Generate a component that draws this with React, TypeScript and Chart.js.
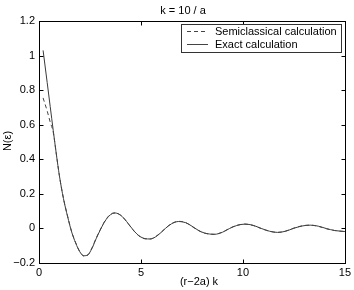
import React, { useEffect, useRef } from "react";
import { Chart, registerables } from "chart.js";

Chart.register(...registerables);

const titleText = "k = 10 / a";
const xTitle = "(r\u22122a) k";
const yTitle = "N(\u03b5)";
const seriesNames = ["Semiclassical calculation", "Exact calculation"];

const xTickLabels = ["0", "5", "10", "15"];
const yTickLabels = ["\u22120.2", "0", "0.2", "0.4", "0.6", "0.8", "1", "1.2"];

const exactX = [0.2, 0.4, 0.55, 0.7, 0.85, 1.0, 1.2, 1.4, 1.6, 1.8, 2.0, 2.2, 2.4, 2.6, 2.8, 3.0, 3.2, 3.4, 3.6, 3.75, 4.0, 4.2, 4.4, 4.6, 4.8, 5.0, 5.2, 5.45, 5.7, 6.0, 6.2, 6.5, 6.85, 7.2, 7.5, 7.8, 8.1, 8.6, 9.0, 9.35, 9.7, 10.1, 10.5, 10.9, 11.3, 11.7, 12.1, 12.5, 12.9, 13.3, 13.7, 14.1, 14.5, 15.0];
const exactY = [1.03, 0.845, 0.705, 0.565, 0.43, 0.305, 0.172, 0.07, -0.02, -0.085, -0.135, -0.158, -0.152, -0.115, -0.06, -0.01, 0.035, 0.068, 0.086, 0.089, 0.077, 0.054, 0.024, -0.006, -0.032, -0.05, -0.059, -0.061, -0.05, -0.022, 0.0, 0.027, 0.04, 0.033, 0.013, -0.01, -0.026, -0.034, -0.022, 0.0, 0.017, 0.025, 0.018, 0.0, -0.016, -0.023, -0.016, 0.001, 0.014, 0.019, 0.013, -0.001, -0.012, -0.018];

const semiX = [0.2, 0.4, 0.55, 0.7, 0.85, 1.0, 1.2, 1.4, 1.6, 1.8, 2.0, 2.2, 2.4, 2.6, 2.8, 3.0, 3.2, 3.4, 3.6, 3.75, 4.0, 4.2, 4.4, 4.6, 4.8, 5.0, 5.2, 5.45, 5.7, 6.0, 6.2, 6.5, 6.85, 7.2, 7.5, 7.8, 8.1, 8.6, 9.0, 9.35, 9.7, 10.1, 10.5, 10.9, 11.3, 11.7, 12.1, 12.5, 12.9, 13.3, 13.7, 14.1, 14.5, 15.0];
const semiY = [0.755, 0.68, 0.615, 0.555, 0.43, 0.305, 0.174, 0.072, -0.018, -0.083, -0.133, -0.16, -0.154, -0.112, -0.057, -0.008, 0.037, 0.07, 0.088, 0.09, 0.076, 0.053, 0.023, -0.007, -0.033, -0.051, -0.06, -0.061, -0.049, -0.021, 0.001, 0.028, 0.041, 0.033, 0.012, -0.011, -0.027, -0.034, -0.021, 0.001, 0.018, 0.025, 0.017, -0.001, -0.016, -0.023, -0.015, 0.002, 0.015, 0.019, 0.012, -0.002, -0.012, -0.018];

const FONT = "'Liberation Sans', Arial, Helvetica, sans-serif";

const framePlugin = {
  id: "frame",
  afterDraw(chart: any) {
    const ctx = chart.ctx;
    const a = chart.chartArea;
    const xs = chart.scales.x;
    const ys = chart.scales.y;
    ctx.save();
    ctx.strokeStyle = "#000";
    ctx.lineWidth = 1;
    const L = Math.round(a.left) + 0.5;
    const R = Math.round(a.right) + 0.5;
    const T = Math.round(a.top) + 0.5;
    const B = Math.round(a.bottom) + 0.5;
    ctx.strokeRect(L, T, R - L, B - T);
    const tl = 4;
    ctx.beginPath();
    xs.ticks.forEach((t: any) => {
      const px = Math.round(xs.getPixelForValue(t.value)) + 0.5;
      ctx.moveTo(px, B);
      ctx.lineTo(px, B - tl);
      ctx.moveTo(px, T);
      ctx.lineTo(px, T + tl);
    });
    ys.ticks.forEach((t: any) => {
      const py = Math.round(ys.getPixelForValue(t.value)) + 0.5;
      ctx.moveTo(L, py);
      ctx.lineTo(L + tl, py);
      ctx.moveTo(R, py);
      ctx.lineTo(R - tl, py);
    });
    ctx.stroke();

    ctx.fillStyle = "#000";
    ctx.font = "11px " + FONT;
    ctx.textAlign = "center";
    ctx.textBaseline = "middle";
    ctx.fillText(titleText, 183, 11);
    ctx.fillText(xTitle, 199, 282);
    ctx.save();
    ctx.translate(8, 141);
    ctx.rotate(-Math.PI / 2);
    ctx.fillText(yTitle, 0, 0);
    ctx.restore();

    // legend
    const lx = 181.5, ly = 24.5, lw = 160, lh = 28;
    ctx.fillStyle = "#fff";
    ctx.fillRect(lx, ly, lw, lh);
    ctx.strokeStyle = "#333";
    ctx.strokeRect(lx, ly, lw, lh);
    ctx.strokeStyle = "#444";
    ctx.beginPath();
    ctx.setLineDash([4, 3]);
    ctx.moveTo(187, 31.5);
    ctx.lineTo(208, 31.5);
    ctx.stroke();
    ctx.setLineDash([]);
    ctx.beginPath();
    ctx.moveTo(187, 44.5);
    ctx.lineTo(208, 44.5);
    ctx.stroke();
    ctx.fillStyle = "#000";
    ctx.textAlign = "left";
    ctx.fillText(seriesNames[0], 215, 32);
    ctx.fillText(seriesNames[1], 215, 45);
    ctx.restore();
  },
};

export default function App() {
  const ref = useRef<HTMLCanvasElement>(null);
  useEffect(() => {
    document.body.style.margin = "0";
    const canvas = ref.current;
    if (!canvas) return;
    const chart = new Chart(canvas, {
      type: "line",
      data: {
        datasets: [
          {
            label: seriesNames[0],
            data: semiX.map((x, i) => ({ x, y: semiY[i] })),
            borderColor: "#444",
            borderWidth: 1,
            borderDash: [4, 3],
            pointRadius: 0,
            fill: false,
            cubicInterpolationMode: "monotone",
          },
          {
            label: seriesNames[1],
            data: exactX.map((x, i) => ({ x, y: exactY[i] })),
            borderColor: "#3a3a3a",
            borderWidth: 1,
            pointRadius: 0,
            fill: false,
            cubicInterpolationMode: "monotone",
          },
        ],
      },
      options: {
        responsive: false,
        animation: false,
        layout: { padding: { top: 21, right: 9, left: 0, bottom: 0 } },
        plugins: { legend: { display: false }, title: { display: false }, tooltip: { enabled: false } },
        scales: {
          x: {
            type: "linear",
            min: 0,
            max: 15,
            afterFit: (s: any) => { s.height = 27; },
            grid: { display: false, drawTicks: false },
            border: { display: false },
            ticks: {
              stepSize: 5,
              padding: 3,
              color: "#000",
              font: { family: FONT, size: 11 },
              maxRotation: 0,
              callback: (_v: any, i: number) => xTickLabels[i],
            },
          },
          y: {
            type: "linear",
            min: -0.2,
            max: 1.2,
            afterFit: (s: any) => { s.width = 39; },
            grid: { display: false, drawTicks: false },
            border: { display: false },
            ticks: {
              stepSize: 0.2,
              padding: 4,
              color: "#000",
              font: { family: FONT, size: 11 },
              callback: (_v: any, i: number) => yTickLabels[i],
            },
          },
        },
      },
      plugins: [framePlugin],
    } as any);
    return () => chart.destroy();
  }, []);
  return <canvas ref={ref} width={354} height={290} style={{ display: "block" }} />;
}
